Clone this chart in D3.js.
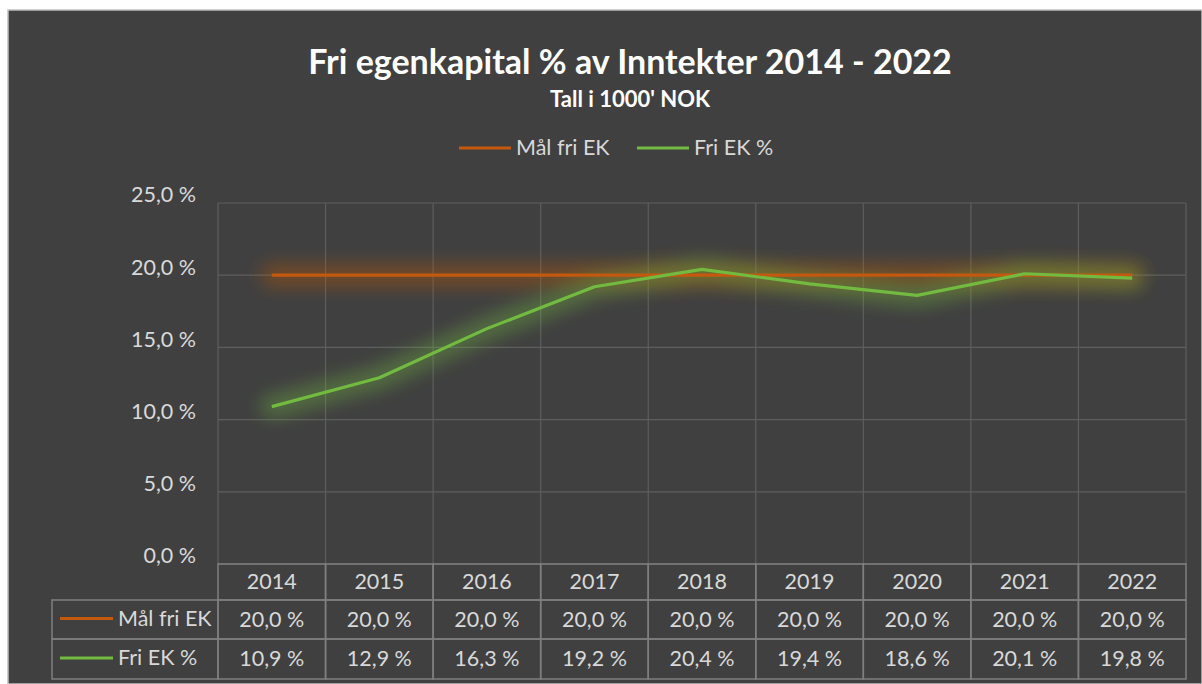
<!DOCTYPE html>
<html>
<head>
<meta charset="utf-8">
<script src="https://cdn.jsdelivr.net/npm/d3@7"></script>
<style>
  body { margin: 0; background: #fff; }
  svg text { font-family: Lato, "Open Sans", sans-serif; }
</style>
</head>
<body>
<div id="chart"></div>
<script>
// data
var years = ["2014", "2015", "2016", "2017", "2018", "2019", "2020", "2021", "2022"];
var malFriEK = [20.0, 20.0, 20.0, 20.0, 20.0, 20.0, 20.0, 20.0, 20.0];
var friEK = [10.9, 12.9, 16.3, 19.2, 20.4, 19.4, 18.6, 20.1, 19.8];
var yTicks = [0, 5, 10, 15, 20, 25];
var seriesNames = ["Mål fri EK", "Fri EK %"];
var seriesColors = ["#c4580f", "#72ba40"];

var svgWidth = 1202, svgHeight = 684;
var margin = { top: 203, left: 218, right: 16, bottom: 120 };
var width = 1186 - margin.left;
var height = 564 - margin.top;
var fs = 21.5;

var fmt = function(v) { return d3.format(".1f")(v).replace(".", ",") + " %"; };

var svg = d3.select("#chart").append("svg")
  .attr("width", svgWidth)
  .attr("height", svgHeight);

// background
svg.append("rect").attr("x", 8).attr("y", 10).attr("width", svgWidth - 8).attr("height", svgHeight - 10)
  .attr("fill", "#404040").attr("stroke", "#bfbfbf").attr("stroke-width", 1.5);

// glow filter (user space so the flat line still gets a region)
var defs = svg.append("defs");
var glow = defs.append("filter").attr("id", "glow")
  .attr("filterUnits", "userSpaceOnUse")
  .attr("x", -100).attr("y", -100).attr("width", width + 200).attr("height", height + 200);
glow.append("feGaussianBlur").attr("in", "SourceGraphic").attr("stdDeviation", 9);

// title
svg.append("text").attr("x", 630).attr("y", 74).attr("text-anchor", "middle")
  .attr("fill", "#ffffff").attr("font-size", 34).attr("font-weight", "bold")
  .text("Fri egenkapital % av Inntekter 2014 - 2022");
svg.append("text").attr("x", 630).attr("y", 107).attr("text-anchor", "middle")
  .attr("fill", "#ffffff").attr("font-size", 22).attr("font-weight", "bold")
  .text("Tall i 1000' NOK");

// legend
var legendX = [459, 637];
seriesNames.forEach(function(name, i) {
  var g = svg.append("g").attr("transform", `translate(${legendX[i]}, 148)`);
  g.append("line").attr("x1", 0).attr("x2", 52).attr("y1", 0).attr("y2", 0)
    .attr("stroke", seriesColors[i]).attr("stroke-width", 3);
  g.append("text").attr("x", 57).attr("y", 7).attr("fill", "#d9d9d9").attr("font-size", fs).text(name);
});

var chartGroup = svg.append("g").attr("transform", `translate(${margin.left}, ${margin.top})`);

var x = d3.scaleBand().domain(years).range([0, width]);
var y = d3.scaleLinear().domain([0, 25]).range([height, 0]);

// horizontal gridlines
chartGroup.append("g").selectAll("line").data(yTicks).enter().append("line")
  .attr("x1", 0).attr("x2", width)
  .attr("y1", d => y(d)).attr("y2", d => y(d))
  .attr("stroke", "#5e5e5e").attr("stroke-width", 1.2);

// vertical gridlines at category boundaries
var bounds = years.map(d => x(d)).concat([width]);
chartGroup.append("g").selectAll("line").data(bounds).enter().append("line")
  .attr("x1", d => d).attr("x2", d => d)
  .attr("y1", 0).attr("y2", height)
  .attr("stroke", "#5e5e5e").attr("stroke-width", 1.2);

// y axis labels
var leftAxis = d3.axisLeft(y).tickValues(yTicks).tickFormat(fmt).tickSize(0).tickPadding(22);
var yAxisG = chartGroup.append("g").call(leftAxis);
yAxisG.select(".domain").remove();
yAxisG.selectAll("text").attr("fill", "#d9d9d9").attr("font-size", fs)
  .attr("font-family", "Lato, 'Open Sans', sans-serif").attr("dy", "-0.05em");

// lines with soft glow
var line = d3.line().x((d, i) => x(years[i]) + x.bandwidth() / 2).y(d => y(d));
[malFriEK, friEK].forEach(function(vals, i) {
  chartGroup.append("path").datum(vals).attr("d", line)
    .attr("fill", "none").attr("stroke", seriesColors[i]).attr("stroke-width", 22)
    .attr("stroke-opacity", 0.4).attr("stroke-linecap", "round").attr("filter", "url(#glow)");
});
[malFriEK, friEK].forEach(function(vals, i) {
  chartGroup.append("path").datum(vals).attr("d", line)
    .attr("fill", "none").attr("stroke", seriesColors[i]).attr("stroke-width", 3.2)
    .attr("stroke-linejoin", "round");
});

// data table
var tableTop = height;
var rowH = [36, 39, 40];
var rowY = [0, 36, 75, 115];
var tableLeft = 52 - margin.left;
var borderColor = "#7f7f7f";
var tg = chartGroup.append("g");

// header cells
years.forEach(function(yr) {
  tg.append("rect").attr("x", x(yr)).attr("y", tableTop).attr("width", x.bandwidth()).attr("height", rowH[0])
    .attr("fill", "none").attr("stroke", borderColor).attr("stroke-width", 1.5);
  tg.append("text").attr("x", x(yr) + x.bandwidth() / 2).attr("y", tableTop + rowY[0] + 25)
    .attr("text-anchor", "middle").attr("fill", "#d9d9d9").attr("font-size", fs).text(yr);
});

[malFriEK, friEK].forEach(function(vals, r) {
  var ry = tableTop + rowY[r + 1];
  var h = rowH[r + 1];
  tg.append("rect").attr("x", tableLeft).attr("y", ry).attr("width", -tableLeft).attr("height", h)
    .attr("fill", "none").attr("stroke", borderColor).attr("stroke-width", 1.5);
  tg.append("line").attr("x1", tableLeft + 8).attr("x2", tableLeft + 61)
    .attr("y1", ry + h / 2 - 1).attr("y2", ry + h / 2 - 1)
    .attr("stroke", seriesColors[r]).attr("stroke-width", 3);
  tg.append("text").attr("x", tableLeft + 66).attr("y", ry + h / 2 + 6)
    .attr("fill", "#d9d9d9").attr("font-size", fs).text(seriesNames[r]);
  vals.forEach(function(v, i) {
    tg.append("rect").attr("x", x(years[i])).attr("y", ry).attr("width", x.bandwidth()).attr("height", h)
      .attr("fill", "none").attr("stroke", borderColor).attr("stroke-width", 1.5);
    tg.append("text").attr("x", x(years[i]) + x.bandwidth() / 2).attr("y", ry + h / 2 + 7)
      .attr("text-anchor", "middle").attr("fill", "#d9d9d9").attr("font-size", fs).text(fmt(v));
  });
});
</script>
</body>
</html>
